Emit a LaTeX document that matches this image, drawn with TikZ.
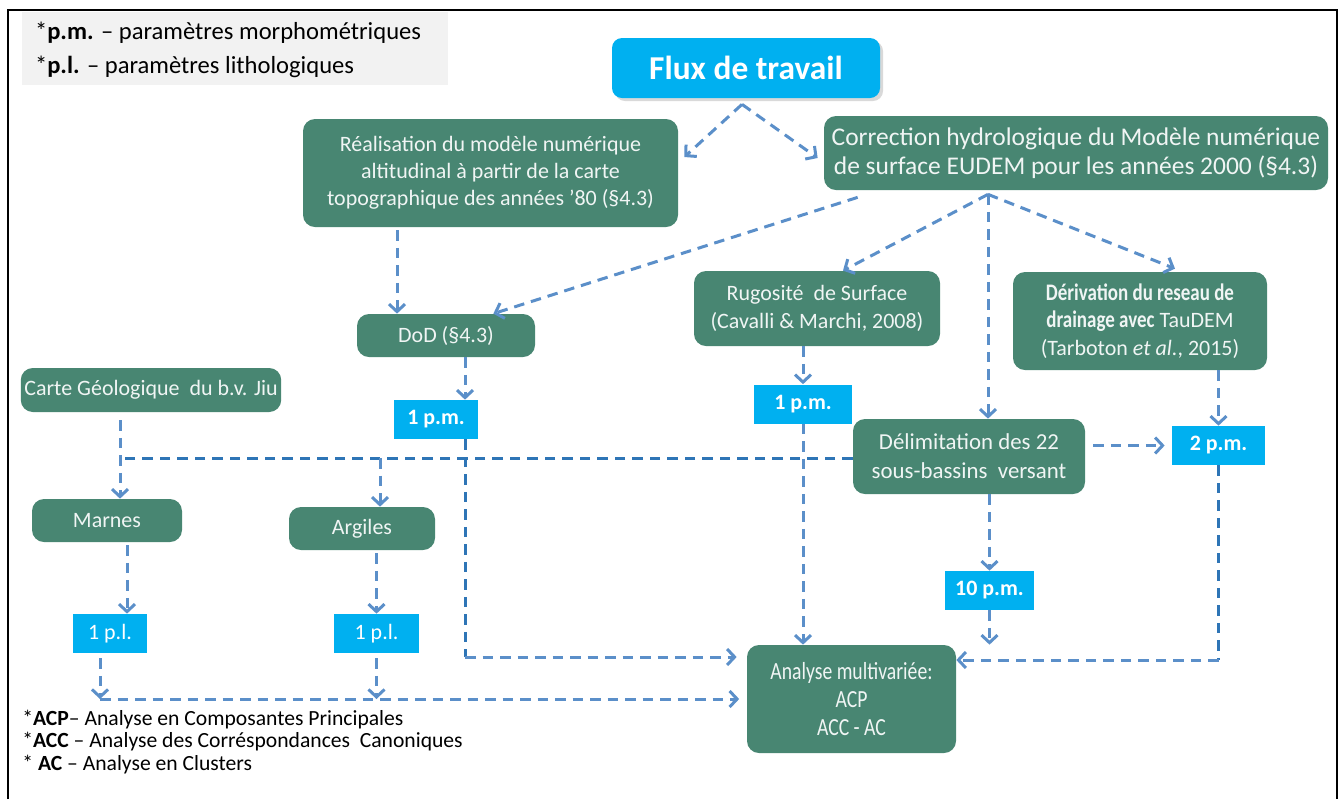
\documentclass[tikz,border=0pt]{standalone}
\usepackage{fontspec}
\setmainfont{Carlito}
\newfontfamily\etroit[FakeStretch=0.8]{Carlito}
\usepackage{xcolor}
\usetikzlibrary{positioning,arrows.meta,shadows}
\definecolor{vert}{RGB}{72,134,114}
\definecolor{cyanbox}{RGB}{0,176,240}
\definecolor{flech}{RGB}{91,143,201}
\definecolor{flechf}{RGB}{46,117,182}
\definecolor{gris}{RGB}{242,242,242}

\begin{document}
\begin{tikzpicture}[
  font=\fontsize{12.5}{15.5}\selectfont,
  etape/.style={fill=vert, text=white!92!vert, rounded corners=2.4mm, align=center, inner sep=2pt},
  param/.style={fill=cyanbox, text=white, font=\fontsize{12.5}{15}\selectfont\bfseries, minimum height=7.8mm, inner sep=2pt},
  ln/.style={flech, line width=0.6mm, dash pattern=on 2.1mm off 1.4mm},
  ar/.style={ln, -{Straight Barb[length=1.5mm,width=3.2mm]}},
  note/.style={align=left, inner sep=0pt, text=black}]
\useasboundingbox (0,0) rectangle (268.6mm,-159.8mm);
\draw[line width=0.4mm] (1.6mm,-159.8mm) -- (1.6mm,-2mm) -- (267.4mm,-2mm) -- (267.4mm,-159.8mm);
% ---- legends
\node[fill=gris, minimum width=85.2mm, minimum height=14.6mm] (leg) at (47mm,-9.7mm) {};
\node[note, anchor=west, font=\fontsize{14}{19}\selectfont] (legtxt) at ([xshift=2.6mm,yshift=-0.3mm]leg.west)
  {*\textbf{p.m.} -- paramètres morphométriques\\{}*\textbf{p.l.} -- paramètres lithologiques};
\node[note, anchor=west, font=\fontsize{12.3}{13}\selectfont] (acro) at (4.4mm,-148.4mm)
  {*\textbf{ACP}-- Analyse en Composantes Principales\\{}*\textbf{ACC} -- Analyse des Corréspondances~ Canoniques\\{}* \textbf{AC} -- Analyse en Clusters};
% ---- title
\node[fill=cyanbox, text=white, rounded corners=2mm, minimum width=53.6mm, minimum height=12mm,
  font=\fontsize{19}{22}\selectfont\bfseries, drop shadow={opacity=0.3, shadow xshift=0.6mm, shadow yshift=-0.6mm}]
  (title) at (149.2mm,-13.6mm) {Flux de travail};
% ---- steps
\node[etape, minimum width=75mm, minimum height=21.6mm] (real) at (98.1mm,-34.6mm)
  {Réalisation du modèle numérique\\ altitudinal à partir de la carte\\ topographique des années ’80 (§4.3)};
\node[etape, minimum width=100.8mm, minimum height=14.8mm, font=\fontsize{14.5}{16.5}\selectfont] (corr) at (215.2mm,-30.6mm)
  {Correction hydrologique du Modèle numérique\\ de surface EUDEM pour les années 2000 (§4.3)};
\node[etape, minimum width=35.6mm, minimum height=8.6mm] (dod) at (89.2mm,-67.1mm) {DoD (§4.3)};
\node[etape, minimum width=49.2mm, minimum height=15mm] (rug) at (163.4mm,-61.7mm)
  {Rugosité~ de Surface\\ (Cavalli \& Marchi, 2008)};
\node[etape, minimum width=50.8mm, minimum height=19.6mm] (deriv) at (228mm,-64.2mm)
  {{\etroit\fontsize{13.5}{15.5}\selectfont\bfseries Dérivation du reseau de}\\ {\etroit\fontsize{13.5}{15.5}\selectfont\bfseries drainage avec} TauDEM\\ (Tarboton \textit{et al.}, 2015)};
\node[etape, minimum width=52mm, minimum height=8.8mm] (carte) at (30.2mm,-78mm) {Carte Géologique~ du b.v. Jiu};
\node[etape, minimum width=46.4mm, minimum height=15mm, font=\fontsize{13}{16.5}\selectfont] (delim) at (193.8mm,-91.3mm)
  {Délimitation des 22\\ sous-bassins~ versant};
\node[etape, minimum width=30mm, minimum height=8.6mm] (marnes) at (21.4mm,-104.1mm) {Marnes};
\node[etape, minimum width=29.2mm, minimum height=8.6mm] (argiles) at (72.4mm,-105.7mm) {Argiles};
\node[etape, minimum width=41.8mm, minimum height=21.6mm, font=\etroit\fontsize{14}{16}\selectfont] (multi) at (170.3mm,-139.8mm)
  {Analyse multivariée:\\ ACP\\ ACC - AC};
% ---- parameters
\node[param, minimum width=16.8mm] (pma) at (87.2mm,-83.9mm) {1 p.m.};
\node[param, minimum width=19.6mm] (pmb) at (160.6mm,-80.8mm) {1 p.m.};
\node[param, minimum width=18.6mm] (pmc) at (243.7mm,-89.1mm) {2 p.m.};
\node[param, minimum width=17.8mm] (pmd) at (197.9mm,-118.1mm) {10 p.m.};
\node[param, minimum width=14.8mm, font=\fontsize{12.5}{15}\selectfont] (pla) at (22mm,-126.7mm) {1 p.l.};
\node[param, minimum width=17mm, font=\fontsize{12.5}{15}\selectfont] (plb) at (75.3mm,-126.7mm) {1 p.l.};
% ---- fork points
\coordinate (fork) at ([xshift=-0.8mm,yshift=-1.2mm]title.south);
\coordinate (cfork) at ([xshift=-17.6mm,yshift=-0.8mm]corr.south);
\coordinate (dodin) at ([xshift=-9.8mm]dod.north);
\coordinate (geo) at ([xshift=-6.2mm]carte.south |- 0,-91.6mm);
\coordinate (lb) at ([xshift=-2mm]pla.south |- multi.west);
\coordinate (pmabas) at ([xshift=5.8mm]pma.south |- 0,-131.4mm);
\coordinate (pmcbas) at (pmc.south |- 0,-132mm);
% ---- connectors
\draw[ar] (fork) -- ([shift={(1.2mm,3.2mm)}]real.east);
\draw[ar] (fork) -- ([shift={(-1.2mm,-1mm)}]corr.west);
\draw[ar, shorten <=0.6mm] (real.south -| dodin) -- (dodin);
\draw[ar] ([shift={(6.8mm,-1.4mm)}]corr.south west) -- ([xshift=-8.4mm]dod.north east);
\draw[ar] (cfork) -- ([xshift=5.2mm]rug.north);
\draw[ar] (cfork) -- (cfork |- delim.north);
\draw[ar] (cfork) -- ([xshift=7mm,yshift=0.6mm]deriv.north);
\draw[ar] ([xshift=3.8mm]dod.south) -- ([xshift=3.8mm]dod.south |- pma.north);
\draw[ar] (pmb.north |- rug.south) -- (pmb.north);
\draw[ar] (pmc.north |- deriv.south) -- (pmc.north);
\draw[ar, shorten <=1.6mm, shorten >=1.4mm] (delim.east |- pmc.west) -- (pmc.west);
\draw[ar, shorten <=1.6mm] ([xshift=-6.2mm]carte.south) -- (geo |- marnes.north);
\draw[ln, flechf] (delim.west |- geo) -- (geo);
\draw[ar] ([xshift=3.6mm]argiles.north |- geo) -- ([xshift=3.6mm]argiles.north);
\draw[ln, flechf] ([xshift=5.8mm]pma.south) -- (pmabas);
\draw[ar, shorten >=2mm] (pmabas) -- (pmabas -| multi.west);
\draw[ar] (pmb.south) -- (pmb.south |- multi.north);
\draw[ar] (pmd.north |- delim.south) -- (pmd.north);
\draw[ar] (pmd.south) -- (pmd.south |- multi.north);
\draw[ln, flechf] (pmc.south) -- (pmcbas);
\draw[ar] (pmcbas) -- (pmcbas -| multi.east);
\draw[ar, shorten <=0.6mm] ([xshift=3.4mm]pla.north |- marnes.south) -- ([xshift=3.4mm]pla.north);
\draw[ar, shorten <=0.6mm] (plb.north |- argiles.south) -- (plb.north);
\draw[ar, shorten <=1mm] ([xshift=-2mm]pla.south) -- (lb);
\draw[ar, shorten >=1.5mm] (lb) -- (multi.west);
\draw[ar, shorten <=1mm] (plb.south) -- (plb.south |- multi.west);
\end{tikzpicture}
\end{document}
